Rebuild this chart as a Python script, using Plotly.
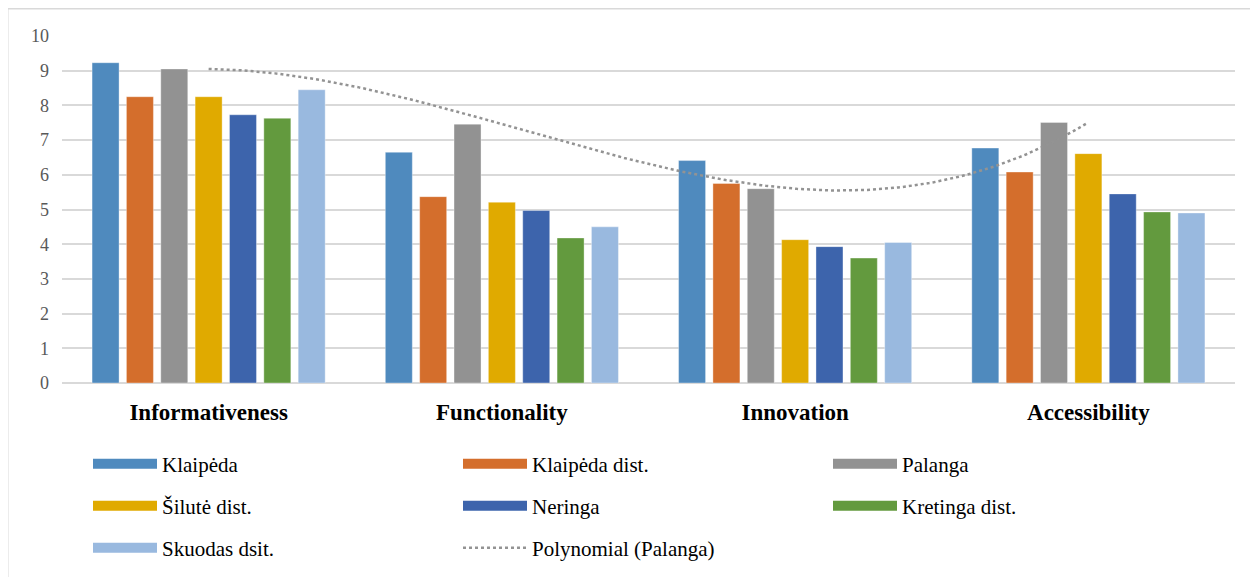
import numpy as np
import plotly.graph_objects as go

categories = ["Informativeness", "Functionality", "Innovation", "Accessibility"]
series_names = ["Klaipėda", "Klaipėda dist.", "Palanga", "Šilutė dist.", "Neringa", "Kretinga dist.", "Skuodas dsit."]
klaipeda = [9.23, 6.65, 6.41, 6.77]
klaipeda_dist = [8.25, 5.37, 5.75, 6.08]
palanga = [9.05, 7.46, 5.60, 7.51]
silute_dist = [8.25, 5.21, 4.13, 6.61]
neringa = [7.73, 4.97, 3.93, 5.45]
kretinga_dist = [7.63, 4.18, 3.60, 4.93]
skuodas_dist = [8.45, 4.50, 4.05, 4.90]
y_ticks = [0, 1, 2, 3, 4, 5, 6, 7, 8, 9, 10]

values = [klaipeda, klaipeda_dist, palanga, silute_dist, neringa, kretinga_dist, skuodas_dist]
colors = ["#4F8ABE", "#D46E2C", "#929292", "#E0AA00", "#3D64AC", "#639A3E", "#99B9DF"]
legend_ids = ["legend", "legend", "legend", "legend2", "legend2", "legend2", "legend3"]

FONT = "Liberation Serif, Times New Roman, serif"
OFF = 8  # page body margin
W, H = 1258 - OFF, 577 - OFF
# plot area in screen pixels: left 62, right 1235, top 36, bottom 383
L, R, T, B = 62 - OFF, W - (1235 - OFF), 36 - OFF, H - (383 - OFF)
pw, ph = W - L - R, H - T - B

def px_x(p):  # screen pixel -> paper
    return (p - OFF - L) / pw

def px_y(p):
    return (H - B - (p - OFF)) / ph

xs = list(range(len(categories)))
fig = go.Figure()
for name, vals, col in zip(series_names, values, colors):
    fig.add_trace(go.Bar(x=xs, y=vals, name=name,
                         marker=dict(color=col, line=dict(width=0.8, color="rgba(255,255,255,0.45)")),
                         showlegend=False))

# Polynomial trendline (order 3) on Palanga
coef = np.polyfit(np.arange(1, len(palanga) + 1), palanga, 3)
tx = np.linspace(1, len(palanga), 200)
ty = np.polyval(coef, tx)
fig.add_trace(go.Scatter(x=tx - 1, y=ty, mode="lines", name="Polynomial (Palanga)",
                         line=dict(color="#939393", width=2.5, dash="dot"), showlegend=False))

# legend entries (wide swatches)
for name, col, lg in zip(series_names, colors, legend_ids):
    fig.add_trace(go.Scatter(x=[None], y=[None], mode="lines", name=name,
                             line=dict(color=col, width=14), legend=lg))
fig.add_trace(go.Scatter(x=[None], y=[None], mode="lines", name="Polynomial (Palanga)",
                         line=dict(color="#939393", width=2.5, dash="dot"), legend="legend3"))

legend_common = dict(orientation="h", font=dict(family=FONT, size=21, color="#000000"),
                     entrywidth=291, entrywidthmode="pixels", xanchor="left", yanchor="middle",
                     bgcolor="rgba(0,0,0,0)", itemwidth=64)

fig.update_layout(
    width=W, height=H,
    margin=dict(l=L, r=R, t=T, b=B, autoexpand=False),
    plot_bgcolor="white", paper_bgcolor="white",
    barmode="group", bargap=0.18, bargroupgap=0.214,
    font=dict(family=FONT),
    xaxis=dict(tickmode="array", tickvals=xs, ticktext=categories, range=[-0.5, len(categories) - 0.5],
               showgrid=False, zeroline=False, showline=False, ticks="",
               tickfont=dict(family=FONT, size=23, color="#000000", weight="bold"),
               ticklabelstandoff=13),
    yaxis=dict(range=[0, 10], tickvals=y_ticks, showgrid=True, gridcolor="#D9D9D9", gridwidth=1.5,
               zeroline=True, zerolinecolor="#D9D9D9", zerolinewidth=1.5, showline=False, ticks="",
               tickfont=dict(family=FONT, size=18, color="#595959"), ticklabelstandoff=12),
    legend=dict(x=px_x(88), y=px_y(464), **legend_common),
    legend2=dict(x=px_x(88), y=px_y(506), **legend_common),
    legend3=dict(x=px_x(88), y=px_y(548), **legend_common),
    shapes=[dict(type="rect", xref="paper", yref="paper",
                 x0=px_x(7.5), x1=px_x(1270), y0=px_y(590), y1=px_y(8.5),
                 line=dict(color="#D9D9D9", width=2), fillcolor="rgba(0,0,0,0)", layer="below")],
)

fig.write_html("out.html")
